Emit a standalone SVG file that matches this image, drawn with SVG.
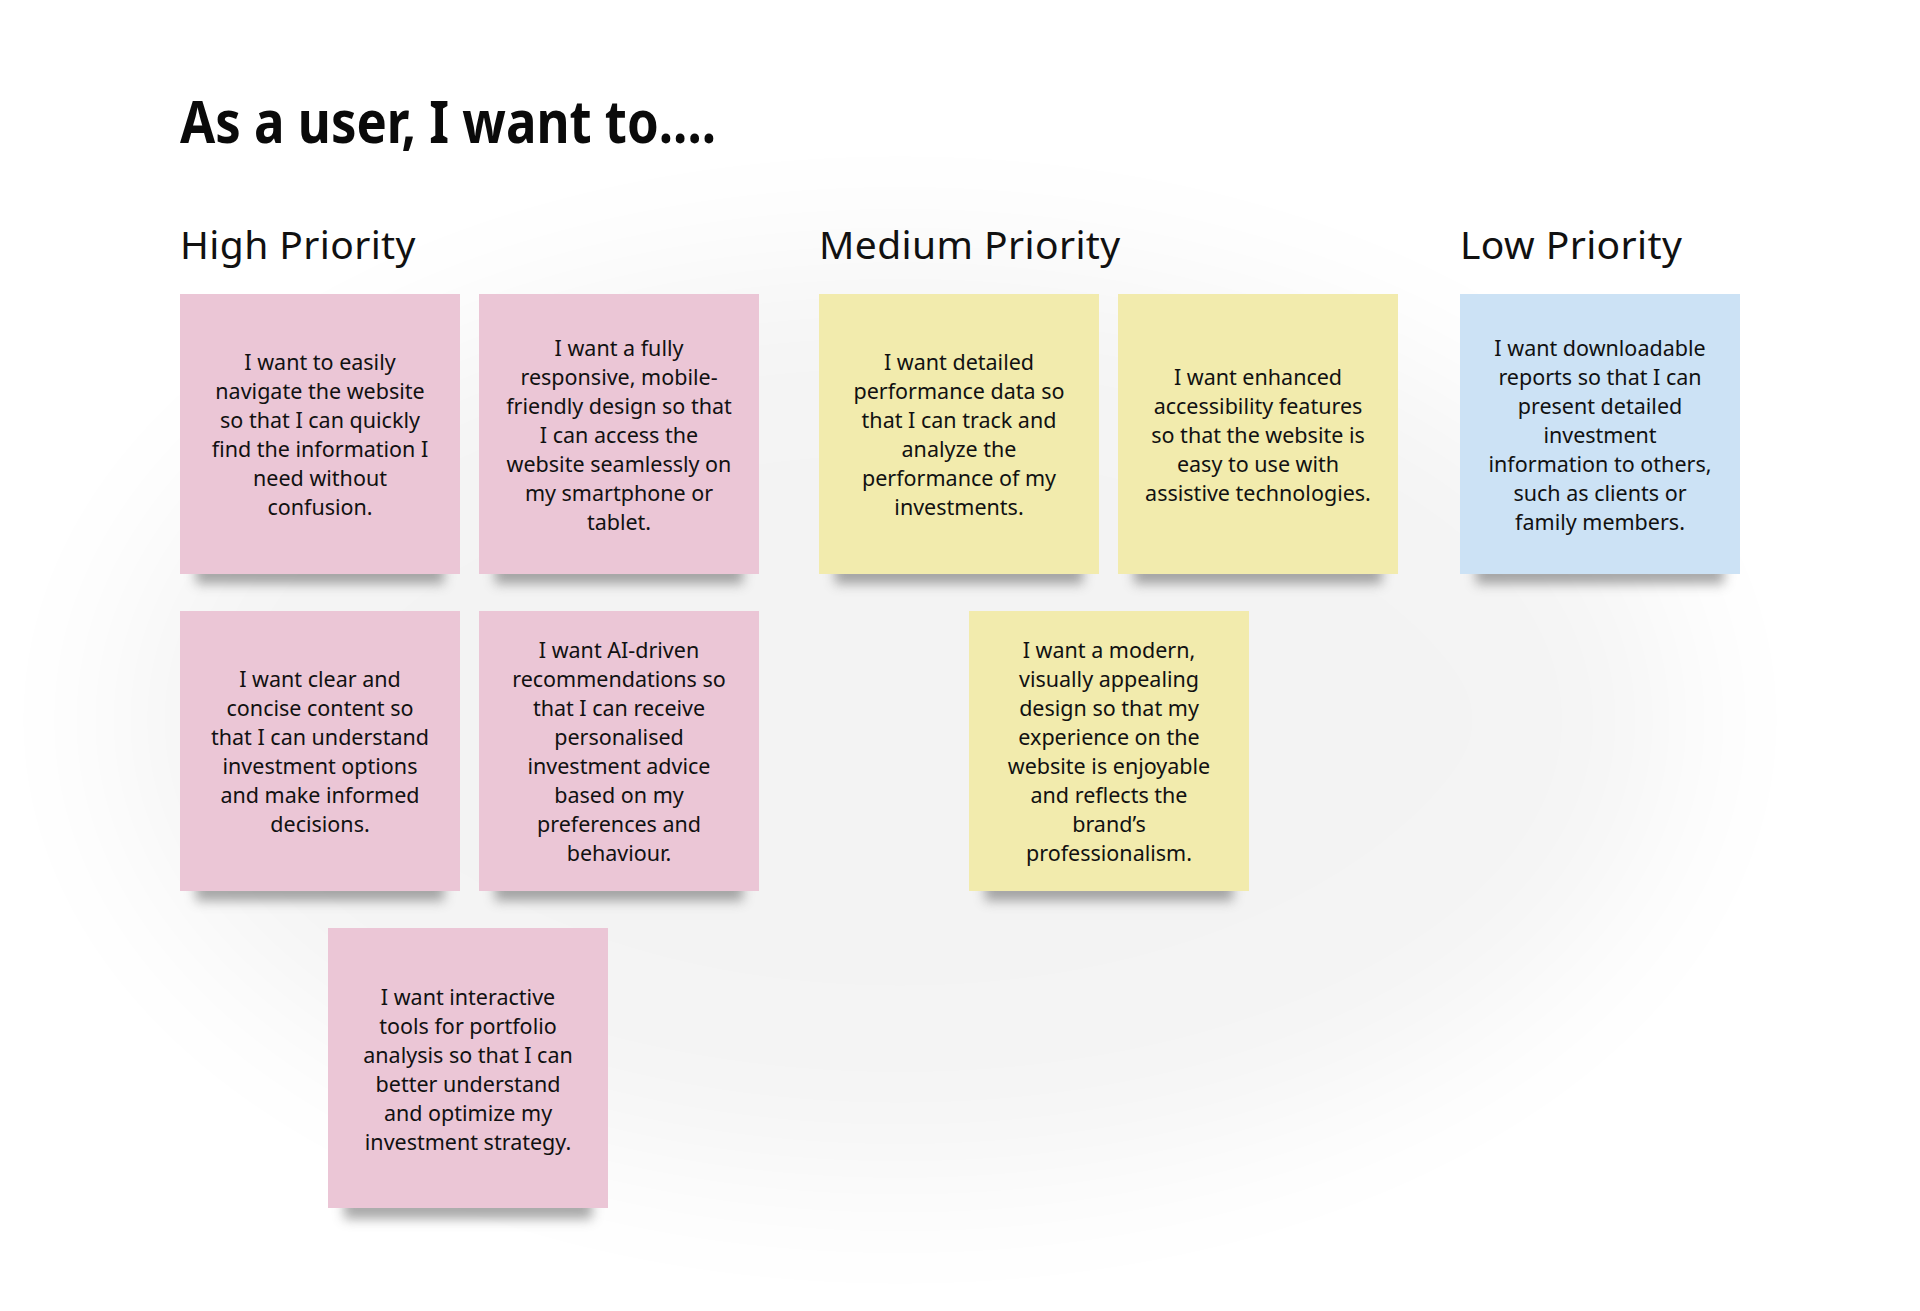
<svg xmlns="http://www.w3.org/2000/svg" width="1920" height="1311" viewBox="0 0 1920 1311">
<defs>
<filter id="glow" x="-50%" y="-50%" width="200%" height="200%"><feGaussianBlur stdDeviation="80"/></filter>
<filter id="sh" x="-20%" y="-100%" width="140%" height="300%"><feGaussianBlur stdDeviation="6"/></filter>
<style>
.bg{fill:#ffffff}
.title{font-family:"Noto Sans",sans-serif;font-weight:700;font-size:60px;fill:#0a0a0a}
.head{font-family:"Noto Sans",sans-serif;font-weight:400;font-size:39px;letter-spacing:0.4px;fill:#111}
.txt{font-family:"Noto Sans",sans-serif;font-size:21.5px;fill:#111;text-anchor:middle}
.pink{fill:#EBC6D6}
.yellow{fill:#F2EBAD}
.blue{fill:#CCE2F5}
.shadow{fill:#555;opacity:0.5;filter:url(#sh)}
</style>
</defs>
<rect class="bg" x="0" y="0" width="1920" height="1311"/>
<ellipse cx="900" cy="720" rx="780" ry="460" fill="#000" opacity="0.045" filter="url(#glow)"/>

<text class="title" x="180" y="143" textLength="536" lengthAdjust="spacingAndGlyphs">As a user, I want to....</text>
<text class="head" x="180" y="259">High Priority</text>
<text class="head" x="819" y="259">Medium Priority</text>
<text class="head" x="1460" y="259">Low Priority</text>

<g id="connectors"></g>

<g id="p1">
<rect class="shadow" x="196" y="562" width="248" height="22"/>
<rect class="pink" x="180" y="294" width="280" height="280"/>
<text class="txt"><tspan x="320" y="370">I want to easily</tspan><tspan x="320" y="399">navigate the website</tspan><tspan x="320" y="428">so that I can quickly</tspan><tspan x="320" y="457">find the information I</tspan><tspan x="320" y="486">need without</tspan><tspan x="320" y="515">confusion.</tspan></text>
</g>
<g id="p2">
<rect class="shadow" x="495" y="562" width="248" height="22"/>
<rect class="pink" x="479" y="294" width="280" height="280"/>
<text class="txt"><tspan x="619" y="356">I want a fully</tspan><tspan x="619" y="385">responsive, mobile-</tspan><tspan x="619" y="414">friendly design so that</tspan><tspan x="619" y="443">I can access the</tspan><tspan x="619" y="472">website seamlessly on</tspan><tspan x="619" y="501">my smartphone or</tspan><tspan x="619" y="530">tablet.</tspan></text>
</g>
<g id="y1">
<rect class="shadow" x="835" y="562" width="248" height="22"/>
<rect class="yellow" x="819" y="294" width="280" height="280"/>
<text class="txt"><tspan x="959" y="370">I want detailed</tspan><tspan x="959" y="399">performance data so</tspan><tspan x="959" y="428">that I can track and</tspan><tspan x="959" y="457">analyze the</tspan><tspan x="959" y="486">performance of my</tspan><tspan x="959" y="515">investments.</tspan></text>
</g>
<g id="y2">
<rect class="shadow" x="1134" y="562" width="248" height="22"/>
<rect class="yellow" x="1118" y="294" width="280" height="280"/>
<text class="txt"><tspan x="1258" y="385">I want enhanced</tspan><tspan x="1258" y="414">accessibility features</tspan><tspan x="1258" y="443">so that the website is</tspan><tspan x="1258" y="472">easy to use with</tspan><tspan x="1258" y="501">assistive technologies.</tspan></text>
</g>
<g id="b1">
<rect class="shadow" x="1476" y="562" width="248" height="22"/>
<rect class="blue" x="1460" y="294" width="280" height="280"/>
<text class="txt"><tspan x="1600" y="356">I want downloadable</tspan><tspan x="1600" y="385">reports so that I can</tspan><tspan x="1600" y="414">present detailed</tspan><tspan x="1600" y="443">investment</tspan><tspan x="1600" y="472">information to others,</tspan><tspan x="1600" y="501">such as clients or</tspan><tspan x="1600" y="530">family members.</tspan></text>
</g>
<g id="p3">
<rect class="shadow" x="196" y="879" width="248" height="22"/>
<rect class="pink" x="180" y="611" width="280" height="280"/>
<text class="txt"><tspan x="320" y="687">I want clear and</tspan><tspan x="320" y="716">concise content so</tspan><tspan x="320" y="745">that I can understand</tspan><tspan x="320" y="774">investment options</tspan><tspan x="320" y="803">and make informed</tspan><tspan x="320" y="832">decisions.</tspan></text>
</g>
<g id="p4">
<rect class="shadow" x="495" y="879" width="248" height="22"/>
<rect class="pink" x="479" y="611" width="280" height="280"/>
<text class="txt"><tspan x="619" y="658">I want AI-driven</tspan><tspan x="619" y="687">recommendations so</tspan><tspan x="619" y="716">that I can receive</tspan><tspan x="619" y="745">personalised</tspan><tspan x="619" y="774">investment advice</tspan><tspan x="619" y="803">based on my</tspan><tspan x="619" y="832">preferences and</tspan><tspan x="619" y="861">behaviour.</tspan></text>
</g>
<g id="y3">
<rect class="shadow" x="985" y="879" width="248" height="22"/>
<rect class="yellow" x="969" y="611" width="280" height="280"/>
<text class="txt"><tspan x="1109" y="658">I want a modern,</tspan><tspan x="1109" y="687">visually appealing</tspan><tspan x="1109" y="716">design so that my</tspan><tspan x="1109" y="745">experience on the</tspan><tspan x="1109" y="774">website is enjoyable</tspan><tspan x="1109" y="803">and reflects the</tspan><tspan x="1109" y="832">brand’s</tspan><tspan x="1109" y="861">professionalism.</tspan></text>
</g>
<g id="p5">
<rect class="shadow" x="344" y="1197" width="248" height="22"/>
<rect class="pink" x="328" y="928" width="280" height="280"/>
<text class="txt"><tspan x="468" y="1005">I want interactive</tspan><tspan x="468" y="1034">tools for portfolio</tspan><tspan x="468" y="1063">analysis so that I can</tspan><tspan x="468" y="1092">better understand</tspan><tspan x="468" y="1121">and optimize my</tspan><tspan x="468" y="1150">investment strategy.</tspan></text>
</g>
</svg>
